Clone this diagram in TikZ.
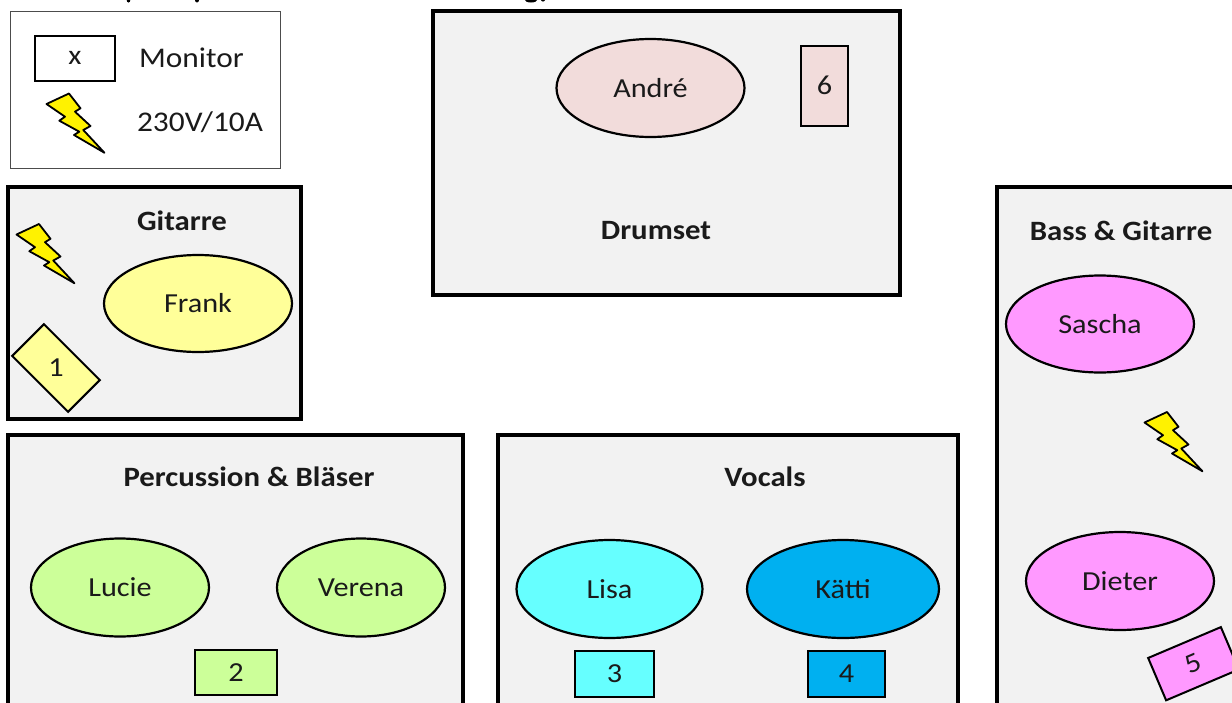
\documentclass[tikz,border=0pt]{standalone}
\usepackage{fontspec}
\setmainfont{Carlito}[FakeStretch=1.1]
\usetikzlibrary{shapes.geometric}
\definecolor{zone}{HTML}{F2F2F2}
\definecolor{ink}{HTML}{1A1A1A}
\definecolor{yel}{HTML}{FFFF99}
\definecolor{grn}{HTML}{CCFF99}
\definecolor{cyn}{HTML}{66FFFF}
\definecolor{blu}{HTML}{00B0F0}
\definecolor{pnk}{HTML}{FF99FF}
\definecolor{ros}{HTML}{F2DCDB}
\newcommand{\dn}[1]{\raisebox{-1pt}{#1}}
\tikzset{
  x=1pt,y=-1pt,
  every node/.style={outer sep=0pt},
  zonebox/.style={draw=black,fill=zone,line width=3.2pt,rectangle,inner sep=0pt,anchor=north west},
  person/.style={draw=black,line width=2.2pt,ellipse,inner sep=0pt,text=ink,font=\fontsize{27.5}{27.5}\selectfont},
  monbox/.style={draw=black,line width=2pt,rectangle,inner sep=0pt,text=ink,font=\fontsize{27.5}{27.5}\selectfont},
  zonetitle/.style={inner sep=0pt,text=ink,font=\fontsize{28}{28}\selectfont\bfseries},
  plain/.style={inner sep=0pt,text=ink,font=\fontsize{28.5}{28.5}\selectfont},
  bolt/.style={draw=black,fill=yellow,line width=1.8pt,line join=round},
}
\newcommand{\boltat}[2]{\draw[bolt,shift={(#1,#2)}] (46.5,104) -- (69,93.5) -- (80.5,108.3) -- (75,111.7) -- (90.5,126) -- (83.3,130) -- (104.5,152.8) -- (74,135) -- (79.3,131.7) -- (59.3,120.7) -- (65,116.7) -- cycle;}
\begin{document}
\begin{tikzpicture}
\useasboundingbox (0,0) rectangle (1232,702);
\clip (0,0) rectangle (1232,702);
\fill[white] (0,0) rectangle (1232,702);
% remnants of the cropped heading
\fill[black] (128.5,0) ellipse (1.8 and 2.5);
\fill[black] (197,0) ellipse (2 and 2.5);
\fill[black] (531,0) ellipse (6 and 2.5);
\fill[black] (543,0) ellipse (2 and 1.5);
% legend
\node[draw=black!70,line width=0.9pt,rectangle,inner sep=0pt,anchor=north west,minimum width=270pt,minimum height=157pt] (legend) at (10,11) {};
\node[monbox,minimum width=80pt,minimum height=45pt] (monx) at (75,58) {x};
\node[plain] (montxt) at (191.5,58) {Monitor};
\node[plain] (powtxt) at (200,122) {230V/10A};
\boltat{0}{0}
% zones
\node[zonebox,minimum width=467pt,minimum height=284pt] (drumzone) at (433,11) {};
\node[zonebox,minimum width=293pt,minimum height=232pt] (gitzone) at (8,187) {};
\node[zonebox,minimum width=455pt,minimum height=290pt] (perczone) at (8,435) {};
\node[zonebox,minimum width=460pt,minimum height=290pt] (voczone) at (498,435) {};
\node[zonebox,minimum width=260pt,minimum height=540pt] (basszone) at (997,187) {};
% titles
\node[zonetitle] (t1) at (182,221) {Gitarre};
\node[zonetitle] (t2) at (656,231) {Drumset};
\node[zonetitle] (t3) at (1121,231) {Bass \& Gitarre};
\node[zonetitle] (t4) at (249,477) {Percussion \& Bläser};
\node[zonetitle] (t5) at (765,477) {Vocals};
% people
\node[person,fill=ros,minimum width=188pt,minimum height=98pt] (andre) at (650.5,88) {\dn{André}};
\node[person,fill=yel,minimum width=188pt,minimum height=97pt] (frank) at (198,303.5) {\dn{Frank}};
\node[person,fill=pnk,minimum width=188pt,minimum height=97pt] (sascha) at (1100,324) {Sascha};
\node[person,fill=pnk,minimum width=188pt,minimum height=98pt] (dieter) at (1120,581) {Dieter};
\node[person,fill=grn,minimum width=178pt,minimum height=98pt] (lucie) at (120,587.5) {Lucie};
\node[person,fill=grn,minimum width=168pt,minimum height=98pt] (verena) at (361,587.5) {Verena};
\node[person,fill=cyn,minimum width=186pt,minimum height=98pt] (lisa) at (609.5,589) {Lisa};
\node[person,fill=blu,minimum width=192pt,minimum height=98pt] (katti) at (843,589) {Kätti};
% monitors
\node[monbox,fill=ros,minimum width=47pt,minimum height=80pt] (m6) at (824.5,86) {\raisebox{2pt}{6}};
\node[monbox,fill=grn,minimum width=82pt,minimum height=45pt] (m2) at (236,672.5) {2};
\node[monbox,fill=cyn,minimum width=79pt,minimum height=46pt] (m3) at (614.5,674) {3};
\node[monbox,fill=blu,minimum width=77pt,minimum height=46pt] (m4) at (846.5,674) {4};
\node[monbox,fill=pnk,minimum width=79pt,minimum height=46pt,rotate=23] (m5) at (1193.5,663.7) {5};
\node[monbox,fill=yel,minimum width=79pt,minimum height=45pt,rotate=-45] (m1box) at (56,368) {};
\node[monbox,draw=none] (m1) at (56,368) {1};
% bolts
\boltat{-30}{130.5}
\boltat{1098}{318.5}
\end{tikzpicture}
\end{document}
